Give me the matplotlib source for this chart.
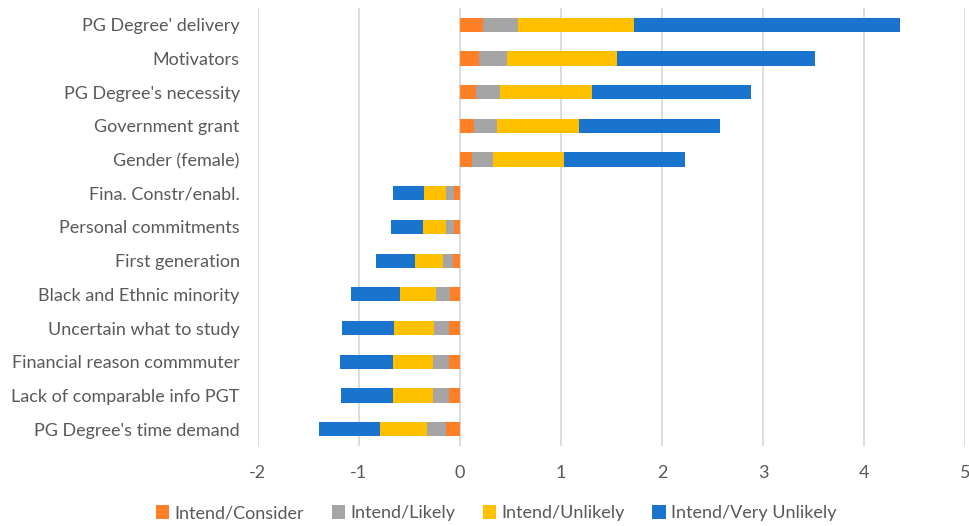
import numpy as np
import matplotlib
matplotlib.use("Agg")
from matplotlib import pyplot as plt

plt.rcParams['font.family'] = ['Lato', 'DejaVu Sans']
plt.rcParams['axes.unicode_minus'] = False

# factors, listed top to bottom
factors = ["PG Degree' delivery", "Motivators", "PG Degree's necessity",
           "Government grant", "Gender (female)", "Fina. Constr/enabl.",
           "Personal commitments", "First generation", "Black and Ethnic minority",
           "Uncertain what to study", "Financial reason commmuter",
           "Lack of comparable info PGT", "PG Degree's time demand"]

consider      = [0.23, 0.185, 0.155, 0.14, 0.12, -0.056, -0.056, -0.066, -0.096, -0.106, -0.106, -0.105, -0.135]
likely        = [0.345, 0.28, 0.24, 0.225, 0.205, -0.08, -0.08, -0.10, -0.14, -0.15, -0.16, -0.16, -0.19]
unlikely      = [1.145, 1.09, 0.91, 0.81, 0.71, -0.22, -0.23, -0.28, -0.36, -0.40, -0.40, -0.40, -0.465]
very_unlikely = [2.64, 1.96, 1.58, 1.40, 1.19, -0.31, -0.32, -0.38, -0.48, -0.51, -0.52, -0.515, -0.60]

series = [("Intend/Consider", consider, "#FF7F27"),
          ("Intend/Likely", likely, "#A5A5A5"),
          ("Intend/Unlikely", unlikely, "#FFC000"),
          ("Intend/Very Unlikely", very_unlikely, "#1874CD")]

fig = plt.figure(figsize=(9.69, 5.26), dpi=100)
ax = fig.add_axes([0.266, 0.152, 0.73, 0.833])

y = np.arange(len(factors))
base = np.zeros(len(factors))
for name, vals, col in series:
    vals = np.array(vals)
    ax.barh(y, vals, left=base, height=0.42, color=col, label=name, zorder=3)
    base = base + vals

ax.set_ylim(len(factors) - 0.5, -0.5)
ax.set_yticks(y)
ax.set_yticklabels(factors)
ax.set_xlim(-2, 5)
ax.set_xticks(range(-2, 6))
ax.grid(axis='x', color='#D9D9D9', linewidth=1.3, zorder=0)
for s in ax.spines.values():
    s.set_visible(False)
ax.tick_params(axis='y', length=0, pad=13, labelsize=13, labelcolor='#595959')
ax.tick_params(axis='x', length=0, pad=14, labelsize=13, labelcolor='#595959')

fig.legend(loc='lower center', bbox_to_anchor=(0.512, -0.022), ncol=4, frameon=False,
           fontsize=13, labelcolor='#595959', handlelength=0.75, handleheight=0.75,
           handletextpad=0.3, columnspacing=1.5)

fig.savefig('out.png', dpi=100)
